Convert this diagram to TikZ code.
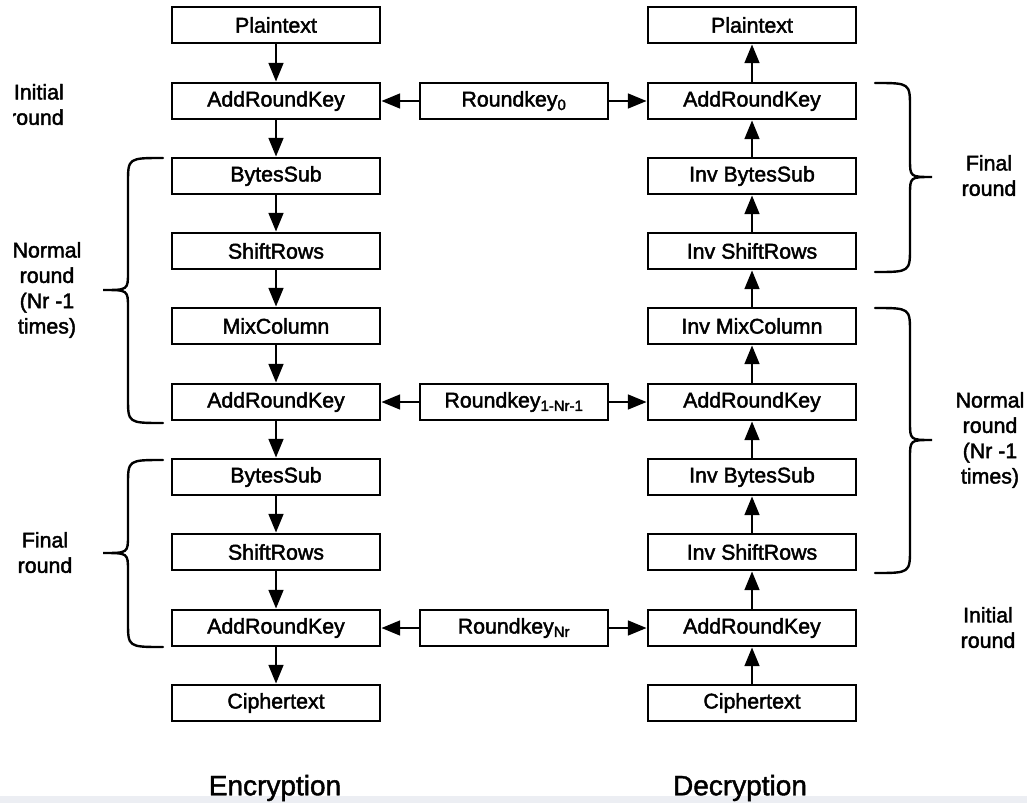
\documentclass[tikz,border=0pt]{standalone}
\usepackage{fontspec}
\setmainfont{Liberation Sans}
\newfontfamily\bxfont[FakeBold=2]{Liberation Sans}
\newfontfamily\bgfont[FakeBold=1.5]{Liberation Sans}
\usetikzlibrary{arrows.meta}
\definecolor{stripgray}{RGB}{236,238,243}
\begin{document}
\begin{tikzpicture}[x=0.75pt,y=-0.75pt,
  box/.style={draw=black, line width=2.1pt, minimum width=156pt, minimum height=27pt, inner sep=0pt, font=\bxfont\fontsize{16}{18}\selectfont},
  kbox/.style={box, minimum width=141pt},
  arr/.style={line width=1.8pt, -{Triangle[length=14pt,width=11pt]}},
  lab/.style={align=center, inner sep=0pt, font=\bxfont\fontsize{16}{19}\selectfont},
  big/.style={inner sep=0pt, font=\bgfont\fontsize{21}{24}\selectfont},
  brc/.style={line width=1.8pt, line cap=round}
]
\useasboundingbox (0,0) rectangle (1027,803);
\fill[white] (0,0) rectangle (1027,803);
\fill[stripgray] (0,796) rectangle (1027,803);

% Encryption column
\node[box] (ep)  at (276,25)  {Plaintext};
\node[box] (ea1) at (276,101) {AddRoundKey};
\node[box] (eb1) at (276,176) {BytesSub};
\node[box] (es1) at (276,251) {ShiftRows};
\node[box] (em)  at (276,326) {MixColumn};
\node[box] (ea2) at (276,402) {AddRoundKey};
\node[box] (eb2) at (276,477) {BytesSub};
\node[box] (es2) at (276,552) {ShiftRows};
\node[box] (ea3) at (276,628) {AddRoundKey};
\node[box] (ec)  at (276,703) {Ciphertext};

% Decryption column
\node[box] (dp)  at (752,25)  {Plaintext};
\node[box] (da1) at (752,101) {AddRoundKey};
\node[box] (db1) at (752,176) {Inv BytesSub};
\node[box] (ds1) at (752,251) {Inv ShiftRows};
\node[box] (dm)  at (752,326) {Inv MixColumn};
\node[box] (da2) at (752,402) {AddRoundKey};
\node[box] (db2) at (752,477) {Inv BytesSub};
\node[box] (ds2) at (752,552) {Inv ShiftRows};
\node[box] (da3) at (752,628) {AddRoundKey};
\node[box] (dc)  at (752,703) {Ciphertext};

% Round keys
\node[kbox] (k0) at (514,101) {Roundkey\textsubscript{0}};
\node[kbox] (k1) at (514,402) {Roundkey\textsubscript{1-Nr-1}};
\node[kbox] (k2) at (514,628) {Roundkey\textsubscript{Nr}};

% Encryption arrows (down)
\draw[arr] (ep) -- (ea1);
\draw[arr] (ea1) -- (eb1);
\draw[arr] (eb1) -- (es1);
\draw[arr] (es1) -- (em);
\draw[arr] (em) -- (ea2);
\draw[arr] (ea2) -- (eb2);
\draw[arr] (eb2) -- (es2);
\draw[arr] (es2) -- (ea3);
\draw[arr] (ea3) -- (ec);

% Decryption arrows (up)
\draw[arr] (dc) -- (da3);
\draw[arr] (da3) -- (ds2);
\draw[arr] (ds2) -- (db2);
\draw[arr] (db2) -- (da2);
\draw[arr] (da2) -- (dm);
\draw[arr] (dm) -- (ds1);
\draw[arr] (ds1) -- (db1);
\draw[arr] (db1) -- (da1);
\draw[arr] (da1) -- (dp);

% Key arrows
\draw[arr] (k0) -- (ea1);
\draw[arr] (k0) -- (da1);
\draw[arr] (k1) -- (ea2);
\draw[arr] (k1) -- (da2);
\draw[arr] (k2) -- (ea3);
\draw[arr] (k2) -- (da3);

% Braces
\draw[brc] (163,158) .. controls (128,158) .. (128,183) -- (128,272) .. controls (128,290) .. (103,290) .. controls (128,290) .. (128,308) -- (128,398) .. controls (128,423) .. (163,423);
\draw[brc] (163,460) .. controls (128,460) .. (128,485) -- (128,535) .. controls (128,553) .. (103,553) .. controls (128,553) .. (128,571) -- (128,622) .. controls (128,647) .. (163,647);
\draw[brc] (875,83) .. controls (910,83) .. (910,108) -- (910,159) .. controls (910,177) .. (932,177) .. controls (910,177) .. (910,195) -- (910,247) .. controls (910,272) .. (875,272);
\draw[brc] (875,308) .. controls (910,308) .. (910,333) -- (910,422) .. controls (910,440) .. (932,440) .. controls (910,440) .. (910,458) -- (910,548) .. controls (910,573) .. (875,573);

% Side labels
\begin{scope}
\clip (13,0) rectangle (200,200);
\node[lab, align=right, anchor=east] (li) at (64,104.5) {Initial\\round};
\end{scope}
\node[lab] (ln) at (47,290) {Normal\\round\\(Nr -1\\times)};
\node[lab] (lf) at (45,552.5) {Final\\round};
\node[lab] (rf) at (989,175.5) {Final\\round};
\node[lab] (rn) at (990,440) {Normal\\round\\(Nr -1\\times)};
\node[lab] (ri) at (988,627.5) {Initial\\round};

% Bottom labels
\node[big] (enc) at (275,788) {Encryption};
\node[big] (dec) at (740,788) {Decryption};
\end{tikzpicture}
\end{document}
